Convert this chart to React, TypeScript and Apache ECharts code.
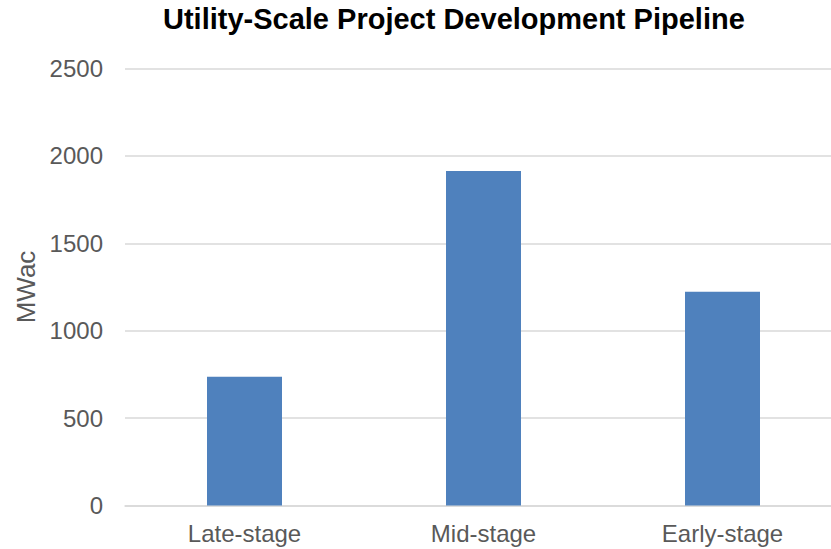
import React, { useEffect, useRef } from "react";
import * as echarts from "echarts";

const categories = ["Late-stage", "Mid-stage", "Early-stage"];
const values = [737, 1914, 1223];
const titleText = "Utility-Scale Project Development Pipeline";
const yAxisName = "MWac";

export default function App() {
  const ref = useRef<HTMLDivElement>(null);
  useEffect(() => {
    if (!ref.current) return;
    const chart = echarts.init(ref.current, undefined, { renderer: "svg" });
    chart.setOption({
      animation: false,
      backgroundColor: "#ffffff",
      title: {
        text: titleText,
        left: 163,
        top: 4,
        padding: 0,
        textStyle: {
          fontFamily: "Liberation Sans, Arial, sans-serif",
          fontSize: 29,
          fontWeight: "bold",
          color: "#000000",
        },
      },
      grid: { left: 125, right: 0, top: 68.5, bottom: 43.5, containLabel: false },
      xAxis: {
        type: "category",
        data: categories,
        axisLine: { show: true, lineStyle: { color: "#d9d9d9", width: 1.5 } },
        axisTick: { show: false },
        axisLabel: {
          margin: 16,
          fontFamily: "Liberation Sans, Arial, sans-serif",
          fontSize: 24,
          color: "#595959",
        },
      },
      yAxis: {
        type: "value",
        min: 0,
        max: 2500,
        interval: 500,
        name: yAxisName,
        nameLocation: "middle",
        nameGap: 74,
        nameRotate: 90,
        nameTextStyle: {
          fontFamily: "Liberation Sans, Arial, sans-serif",
          fontSize: 26,
          color: "#595959",
        },
        axisLine: { show: false },
        axisTick: { show: false },
        axisLabel: {
          margin: 22,
          formatter: (v: number) => String(v),
          fontFamily: "Liberation Sans, Arial, sans-serif",
          fontSize: 24,
          color: "#595959",
        },
        splitLine: { show: true, lineStyle: { color: "#d9d9d9", width: 1.5 } },
      },
      series: [
        {
          type: "bar",
          data: values,
          barWidth: 75,
          itemStyle: { color: "#4f81bd" },
        },
      ],
    });
    return () => chart.dispose();
  }, []);
  return (
    <div
      style={{
        position: "absolute",
        left: 0,
        top: 0,
        width: 831,
        height: 549,
        overflow: "hidden",
      }}
    >
      <div ref={ref} style={{ width: 842, height: 549 }} />
    </div>
  );
}
